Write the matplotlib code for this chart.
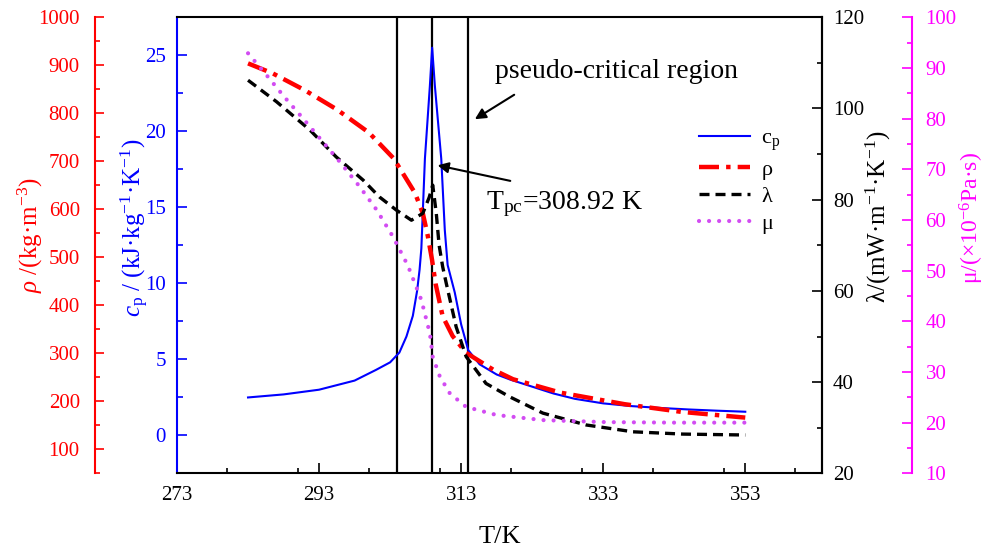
import matplotlib
matplotlib.use("Agg")
import matplotlib.pyplot as plt
from matplotlib.ticker import MultipleLocator

plt.rcParams["font.family"] = ["Liberation Serif", "DejaVu Serif"]
plt.rcParams["mathtext.fontset"] = "custom"
plt.rcParams["mathtext.rm"] = "Liberation Serif"
plt.rcParams["mathtext.it"] = "Liberation Serif:italic"
plt.rcParams["mathtext.bf"] = "Liberation Serif:bold"

# propriedades do CO2 supercritico em funcao da temperatura
T_cp = [283, 288, 293, 298, 301, 303, 304.3, 305.3, 306.2, 306.8, 307.15, 307.4, 307.9,
        308.6, 308.92, 309.3, 310.2, 310.7, 311.1, 312.1, 313, 314, 315.6, 318, 320,
        323, 326, 329, 333, 337, 341, 345, 349, 353]
cp = [2.49, 2.69, 3.0, 3.6, 4.3, 4.8, 5.44, 6.5, 7.86, 9.5, 10.9, 12.3, 18.2,
      23.0, 25.5, 23.0, 18.2, 13.5, 11.2, 9.4, 7.3, 5.6, 4.67, 4.0, 3.65,
      3.2, 2.75, 2.4, 2.1, 1.92, 1.8, 1.7, 1.62, 1.55]

T_rho = [283, 286.5, 291, 295.5, 300, 303.5, 306.5, 307.6, 308.3, 308.9, 309.4, 310.4,
         311.8, 313.7, 317.5, 320.3, 327, 336, 344, 353]
rho = [904, 883, 848, 808, 760, 706, 634, 592, 545, 495, 445, 377,
       336, 301, 266, 246, 218, 194, 178, 166]

T_lam = [283, 287, 291.7, 295.4, 299.2, 301.5, 303.9, 306, 307.6, 308.5, 309, 309.5,
         309.9, 310.4, 310.9, 312.3, 313.7, 316.5, 319.8, 324.5, 330.6, 337.2, 344.2, 353]
lam = [106.2, 101.5, 95.3, 89.4, 84.3, 80.6, 77.7, 75.5, 77, 80.5, 83.2, 77,
       70, 65.3, 61.7, 52.1, 45.6, 39.7, 36.8, 33.2, 30.6, 29.1, 28.6, 28.4]

T_mu = [283, 285.6, 288.1, 290.7, 293.3, 295.9, 298.7, 301.1, 303.4, 305.5, 307.4,
        308.6, 309, 310, 311.4, 313.7, 318, 324.5, 333.4, 343, 353]
mu = [92.9, 88.6, 84.3, 80.1, 75.8, 71.5, 66.6, 62.0, 56.7, 51.0, 44.2,
      37.6, 33, 29.1, 25.8, 23.1, 21.5, 20.5, 20.1, 20.0, 20.0]

T_lines = [304, 308.92, 314]
xticks = [273, 293, 313, 333, 353]

fig = plt.figure(figsize=(9.85, 5.5), dpi=100)
ax = fig.add_axes([177 / 985, 76.7 / 550, 645 / 985, 456 / 550])
ax_rho = ax.twinx()
ax_lam = ax.twinx()
ax_mu = ax.twinx()

fs_tick = 15
fs_label = 18

# eixo x e eixo do cp (azul)
ax.set_xlim(273, 363.8)
ax.set_xticks(xticks)
ax.xaxis.set_minor_locator(MultipleLocator(10))
ax.set_ylim(-2.5, 27.5)
ax.yaxis.set_major_locator(MultipleLocator(5))
ax.yaxis.set_minor_locator(MultipleLocator(2.5))
ax.tick_params(axis="x", which="both", direction="in", top=False, labelsize=fs_tick, pad=9, width=1.2)
ax.tick_params(axis="x", which="major", length=7)
ax.tick_params(axis="x", which="minor", length=3.5)
ax.tick_params(axis="y", which="both", direction="in", colors="blue", labelsize=fs_tick, pad=8, width=1.2)
ax.tick_params(axis="y", which="major", length=7)
ax.tick_params(axis="y", which="minor", length=4.5)
for s in ax.spines.values():
    s.set_linewidth(1.5)
ax.spines["left"].set_color("blue")
ax.set_xlabel("T/K", fontsize=19)
ax.xaxis.label.set_va("center")
ax.xaxis.set_label_coords(0.501, -0.14)
ax.set_ylabel(r"$c_\mathrm{p}$ / (kJ·kg$^{-1}$·K$^{-1}$)", fontsize=fs_label, color="blue")
ax.yaxis.label.set_va("center")
ax.yaxis.set_label_coords(-0.066, 0.538)

# eixo da massa especifica (vermelho), deslocado para a esquerda
ax_rho.set_ylim(50, 1000)
ax_rho.yaxis.set_major_locator(MultipleLocator(100))
ax_rho.yaxis.set_minor_locator(MultipleLocator(50))
ax_rho.yaxis.set_ticks_position("left")
ax_rho.yaxis.set_label_position("left")
for k in ["top", "bottom", "right"]:
    ax_rho.spines[k].set_visible(False)
ax_rho.spines["left"].set_visible(True)
ax_rho.spines["left"].set_position(("outward", 59))
ax_rho.spines["left"].set_color("red")
ax_rho.spines["left"].set_linewidth(1.5)
ax_rho.tick_params(axis="y", which="both", direction="in", colors="red", labelsize=fs_tick, pad=11, width=1.2)
ax_rho.tick_params(axis="y", which="major", length=6.5)
ax_rho.tick_params(axis="y", which="minor", length=3.5)
ax_rho.set_ylabel(r"$\rho$ /(kg·m$^{-3}$)", fontsize=fs_label, color="red")
ax_rho.yaxis.label.set_va("center")
ax_rho.yaxis.set_label_coords(-0.228, 0.523)

# condutividade termica (preto), no lado direito do quadro
ax_lam.set_ylim(20, 120)
ax_lam.yaxis.set_major_locator(MultipleLocator(20))
ax_lam.yaxis.set_minor_locator(MultipleLocator(10))
for k in ["top", "bottom", "left"]:
    ax_lam.spines[k].set_visible(False)
ax_lam.spines["right"].set_linewidth(1.5)
ax_lam.tick_params(axis="y", which="both", direction="in", colors="black", labelsize=fs_tick, pad=8, width=1.2)
ax_lam.tick_params(axis="y", which="major", length=7)
ax_lam.tick_params(axis="y", which="minor", length=3.5)
ax_lam.set_ylabel("λ/(mW·m$^{-1}$·K$^{-1}$)", fontsize=fs_label)
ax_lam.yaxis.label.set_va("center")
ax_lam.yaxis.set_label_coords(1.087, 0.562)

# viscosidade (magenta), deslocada para a direita
ax_mu.set_ylim(10, 100)
ax_mu.yaxis.set_major_locator(MultipleLocator(10))
ax_mu.yaxis.set_minor_locator(MultipleLocator(5))
for k in ["top", "bottom", "left"]:
    ax_mu.spines[k].set_visible(False)
ax_mu.spines["right"].set_position(("outward", 65))
ax_mu.spines["right"].set_color("magenta")
ax_mu.spines["right"].set_linewidth(1.5)
ax_mu.tick_params(axis="y", which="both", direction="in", colors="magenta", labelsize=fs_tick, pad=9.5, width=1.2)
ax_mu.tick_params(axis="y", which="major", length=7)
ax_mu.tick_params(axis="y", which="minor", length=3.5)
ax_mu.set_ylabel("μ/(×10$^{-6}$Pa·s)", fontsize=17, color="magenta")
ax_mu.yaxis.label.set_va("center")
ax_mu.yaxis.set_label_coords(1.233, 0.56)

# linhas verticais da regiao pseudo-critica
for t in T_lines:
    ax.axvline(t, color="black", lw=1.6, zorder=1)

l_cp, = ax.plot(T_cp, cp, color="blue", lw=1.5, label=r"c$_\mathrm{p}$")
l_rho, = ax_rho.plot(T_rho, rho, color="red", lw=3.2, linestyle=(0, (4.5, 1.6, 1.0, 1.6)), label="ρ")
l_lam, = ax_lam.plot(T_lam, lam, color="black", lw=2.4, linestyle=(0, (3.0, 1.8)), label="λ")
l_mu, = ax_mu.plot(T_mu, mu, color="#d24cf2", lw=3.0, linestyle=(0, (0.01, 2.4)),
                   dash_capstyle="round", label="μ")

ax_mu.legend(handles=[l_cp, l_rho, l_lam, l_mu], loc="upper left", frameon=False,
             bbox_to_anchor=(699 / 985, 1 - 128 / 550), bbox_transform=fig.transFigure,
             fontsize=16, handlelength=2.3, handletextpad=0.5, labelspacing=0.3,
             borderpad=0, borderaxespad=0)

# anotacoes
arrow = dict(arrowstyle="-|>", color="black", lw=1.5, mutation_scale=16)
ax.annotate("", xy=(314.6, 20.7), xytext=(320.8, 22.5), arrowprops=arrow)
ax.text(317.7, 23.5, "pseudo-critical region", fontsize=20, va="baseline", ha="left")
ax.annotate("", xy=(309.3, 17.8), xytext=(320.3, 16.7), arrowprops=arrow)
ax.text(316.5, 14.9, r"T$_\mathrm{pc}$=308.92 K", fontsize=20, va="baseline", ha="left")

fig.savefig("out.png", dpi=100)
